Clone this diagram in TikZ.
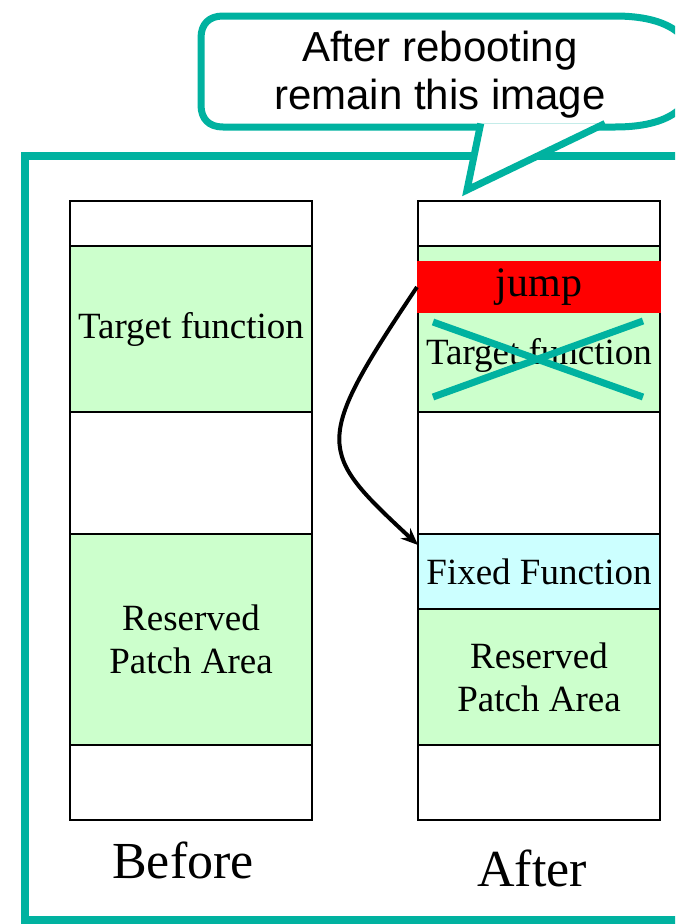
\documentclass[tikz,border=0pt]{standalone}
\usepackage{fontspec}
\setmainfont{Liberation Serif}
\newfontfamily\notesans{Liberation Sans}
\usetikzlibrary{positioning,arrows.meta}
\definecolor{frameteal}{RGB}{0,178,160}
\definecolor{codegreen}{RGB}{204,255,204}
\definecolor{fixcyan}{RGB}{204,255,255}
\definecolor{jumpred}{RGB}{255,0,0}
\tikzset{
  seg/.style={draw,line width=2pt,minimum width=242pt,inner sep=0pt,outer sep=0pt,
    anchor=north west,fill=white,align=center,font=\fontsize{37}{43}\selectfont},
  codeseg/.style={seg,fill=codegreen},
  fixseg/.style={seg,fill=fixcyan},
  jumpseg/.style={seg,draw=none,fill=jumpred,minimum width=244pt,font=\fontsize{42}{48}\selectfont},
  lbl/.style={align=center,font=\fontsize{37}{43}\selectfont},
  collabel/.style={font=\fontsize{52}{60}\selectfont},
  notetext/.style={align=center,font=\notesans\fontsize{42}{48}\selectfont},
  frame/.style={frameteal,line width=8pt},
  callout/.style={draw=frameteal,fill=white,line width=7pt},
  cross/.style={frameteal,line width=7pt},
  jar/.style={-{Stealth[length=17pt,width=14pt]},line width=4pt},
}
\begin{document}
\begin{tikzpicture}[x=1pt,y=-1pt]
  \path[use as bounding box] (0,0) rectangle (675,924);
  \clip (0,0) rectangle (675,924);
  % outer frame
  \draw[frame] (700,156) -- (25,156) -- (25,920) -- (700,920);
  % speech bubble
  \draw[callout] (223,16) -- (615,16) .. controls (668,16) and (695,35) .. (695,71.5)
    .. controls (695,108) and (668,127) .. (615,127) -- (223,127)
    .. controls (209,127) and (201,119) .. (201,105) -- (201,38)
    .. controls (201,24) and (209,16) .. (223,16) -- cycle;
  \fill[white] (480.7,123.5) -- (605,123.5) -- (467,190) -- cycle;
  \draw[callout,fill=none] (480.7,123.5) -- (467,190) -- (605,123.5);
  \node[notetext] (note) at (440,75) {After rebooting\\remain this image};

  % before
  \node[seg,minimum height=45pt] (b1) at (70,201) {};
  \node[codeseg,minimum height=166pt,below=0pt of b1] (b2) {Target function};
  \node[seg,minimum height=122pt,below=0pt of b2] (b3) {};
  \node[codeseg,minimum height=211pt,below=0pt of b3] (b4) {Reserved\\Patch Area};
  \node[seg,minimum height=75pt,below=0pt of b4] (b5) {};
  \node[collabel] (before) at (183,860) {Before};

  % after
  \node[seg,minimum height=45pt] (a1) at (418,201) {};
  \node[codeseg,minimum height=166pt,below=0pt of a1] (a2) {};
  \node[seg,minimum height=122pt,below=0pt of a2] (a3) {};
  \node[fixseg,minimum height=75pt,below=0pt of a3] (a4) {Fixed Function};
  \node[codeseg,minimum height=136pt,below=0pt of a4] (a5) {Reserved\\Patch Area};
  \node[seg,minimum height=75pt,below=0pt of a5] (a6) {};
  \node[jumpseg,minimum height=52pt,anchor=north] (jump) at ([yshift=-15pt]a2.north) {jump};
  \node[lbl] (tgt) at ([yshift=-26pt]a2.center) {Target function};
  \draw[cross] (433,322) -- (643,397);
  \draw[cross] (433,397) -- (643,321);
  \node[collabel] (after) at (532,868) {After};

  \draw[jar] (jump.west) .. controls (312,444) and (317,451) .. ([yshift=-11pt]a4.north west);
\end{tikzpicture}
\end{document}
